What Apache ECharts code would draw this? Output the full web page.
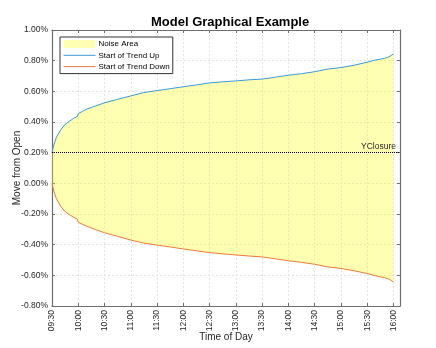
<!DOCTYPE html>
<html>
<head>
<meta charset="utf-8">
<script src="https://cdn.jsdelivr.net/npm/echarts@6/dist/echarts.min.js"></script>
<style>html,body{margin:0;padding:0;background:#fff}#c{width:436px;height:348px}</style>
</head>
<body>
<div id="c"></div>
<script>
// minutes since 09:30
const minutes = [0, 2, 5, 10, 15, 20, 25, 29, 30, 35, 40, 50, 60, 75, 90, 105, 120, 135, 150, 165, 180, 195, 210, 225, 240, 255, 270, 285, 300, 315, 330, 345, 360, 370, 375, 380, 385, 390];
const trendUp = [0.20, 0.25, 0.30, 0.35, 0.385, 0.405, 0.425, 0.436, 0.455, 0.47, 0.485, 0.505, 0.525, 0.548, 0.57, 0.592, 0.605, 0.617, 0.63, 0.642, 0.655, 0.662, 0.668, 0.675, 0.68, 0.692, 0.705, 0.715, 0.728, 0.745, 0.755, 0.77, 0.79, 0.805, 0.81, 0.815, 0.825, 0.845];
const trendDown = [0.00, -0.05, -0.10, -0.15, -0.185, -0.205, -0.222, -0.235, -0.255, -0.268, -0.28, -0.302, -0.322, -0.346, -0.37, -0.39, -0.403, -0.415, -0.428, -0.44, -0.452, -0.46, -0.467, -0.474, -0.48, -0.492, -0.505, -0.515, -0.528, -0.545, -0.555, -0.57, -0.588, -0.603, -0.61, -0.615, -0.625, -0.643];
const yClosure = 0.20;
const yTicks = [-0.8, -0.6, -0.4, -0.2, 0.0, 0.2, 0.4, 0.6, 0.8, 1.0];
const timeLabels = ['09:30','10:00','10:30','11:00','11:30','12:00','12:30','13:00','13:30','14:00','14:30','15:00','15:30','16:00'];

const upData = minutes.map((m, i) => [m, trendUp[i]]);
const downData = minutes.map((m, i) => [m, trendDown[i]]);

const font = 'Liberation Sans, Arial, sans-serif';
const axisColor = '#6e6e6e';
const gridLine = { show: true, lineStyle: { color: '#e4e4e4', type: [2, 2], width: 1 } };
const noLegendSymbol = { color: 'rgba(0,0,0,0)', borderWidth: 0 };

const chart = echarts.init(document.getElementById('c'), null, { renderer: 'canvas' });
chart.setOption({
  animation: false,
  backgroundColor: '#fff',
  textStyle: { fontFamily: font },
  title: {
    text: 'Model Graphical Example', left: 146, top: 11,
    textStyle: { fontFamily: font, fontSize: 13, fontWeight: 'bold', color: '#000' }
  },
  legend: {
    orient: 'vertical', left: 60, top: 37,
    padding: [2, 3, 2, 3], itemGap: 1.3, itemWidth: 32, itemHeight: 8,
    borderColor: '#333', borderWidth: 1, backgroundColor: '#fff',
    lineStyle: { width: 1 },
    textStyle: { fontFamily: font, fontSize: 8, lineHeight: 10, color: '#000', padding: [0, 0, 0, -2] },
    data: [
      { name: 'Noise Area', icon: 'rect', itemStyle: { color: '#FFFFB3' } },
      { name: 'Start of Trend Up', itemStyle: noLegendSymbol },
      { name: 'Start of Trend Down', itemStyle: noLegendSymbol }
    ]
  },
  grid: { left: 52, right: 36, top: 30, bottom: 42, outerBoundsMode: 'none', containLabel: false },
  xAxis: [{
    type: 'value', min: 0, max: 397.5, interval: 30,
    name: 'Time of Day', nameLocation: 'middle', nameGap: 26, nameMoveOverlap: false,
    nameTextStyle: { fontFamily: font, fontSize: 10, color: '#262626' },
    axisLine: { show: true, onZero: false, lineStyle: { color: axisColor, width: 1.2 } },
    axisTick: { show: true, inside: true, length: 3, lineStyle: { color: axisColor } },
    axisLabel: {
      rotate: 90, fontSize: 8.5, color: '#262626', margin: 4, showMaxLabel: false,
      formatter: v => (v % 30 === 0 && v / 30 < timeLabels.length) ? timeLabels[v / 30] : ''
    },
    splitLine: gridLine
  }, {
    type: 'value', position: 'top', min: 0, max: 397.5, interval: 30,
    axisLine: { show: true, onZero: false, lineStyle: { color: axisColor, width: 1.2 } },
    axisTick: { show: true, inside: true, length: 3, lineStyle: { color: axisColor } },
    axisLabel: { show: false }, splitLine: { show: false }
  }],
  yAxis: [{
    type: 'value', min: yTicks[0], max: yTicks[yTicks.length - 1], interval: 0.2,
    name: 'Move from Open', nameLocation: 'middle', nameGap: 30, nameMoveOverlap: false,
    nameTextStyle: { fontFamily: font, fontSize: 10, color: '#262626' },
    axisLine: { show: true, onZero: false, lineStyle: { color: axisColor, width: 1.2 } },
    axisTick: { show: true, inside: true, length: 3, lineStyle: { color: axisColor } },
    axisLabel: { fontSize: 8.5, color: '#262626', margin: 4, formatter: v => v.toFixed(2) + '%' },
    splitLine: gridLine
  }, {
    type: 'value', position: 'right', min: yTicks[0], max: yTicks[yTicks.length - 1], interval: 0.2,
    axisLine: { show: true, onZero: false, lineStyle: { color: axisColor, width: 1.2 } },
    axisTick: { show: true, inside: true, length: 3, lineStyle: { color: axisColor } },
    axisLabel: { show: false }, splitLine: { show: false }
  }],
  series: [
    {
      name: 'Noise Area', type: 'custom', data: [0], silent: true,
      itemStyle: { color: '#FFFFB3' },
      renderItem: function (params, api) {
        if (params.dataIndex !== 0) return;
        const pts = upData.map(p => api.coord(p))
          .concat(downData.slice().reverse().map(p => api.coord(p)));
        return { type: 'polygon', shape: { points: pts }, style: { fill: 'rgba(255,255,0,0.3)' } };
      }
    },
    {
      name: 'Start of Trend Up', type: 'line', data: upData, symbol: 'none',
      itemStyle: { color: '#3d9ad6' }, lineStyle: { color: '#3d9ad6', width: 1 },
      markLine: {
        silent: true, symbol: 'none',
        lineStyle: { color: '#000', type: 'dotted', width: 1 },
        label: { formatter: 'YClosure', position: 'insideEndTop', fontSize: 8.5, color: '#262626', fontFamily: font, distance: [4, 2] },
        data: [{ yAxis: yClosure }]
      }
    },
    {
      name: 'Start of Trend Down', type: 'line', data: downData, symbol: 'none',
      itemStyle: { color: '#ec7a3c' }, lineStyle: { color: '#ec7a3c', width: 1 }
    }
  ]
});
</script>
</body>
</html>
